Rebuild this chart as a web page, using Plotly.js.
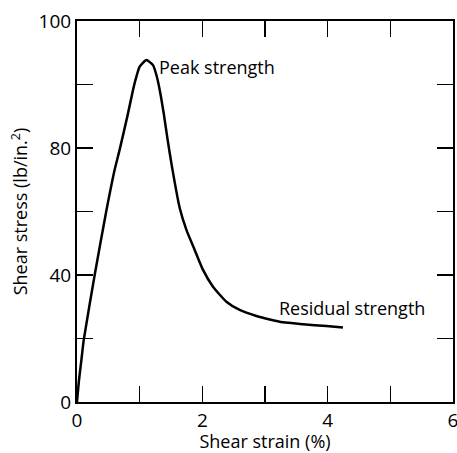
<!DOCTYPE html>
<html>
<head>
<meta charset="utf-8">
<script src="https://cdn.plot.ly/plotly-3.0.1.min.js"></script>
<style>html,body{margin:0;padding:0;background:#fff;}#chart{width:457px;height:453px;}</style>
</head>
<body>
<div id="chart"></div>
<script>
// Shear strain (%) and shear stress
const strain = [0, 0.032, 0.070, 0.107, 0.282, 0.469, 0.60, 0.68, 0.814, 0.894, 0.948, 1.0, 1.107, 1.213, 1.267, 1.320, 1.383, 1.447, 1.511, 1.639, 1.746, 1.878, 2.011, 2.170, 2.384, 2.596, 2.863, 3.075, 3.287, 3.606, 3.980, 4.244];
const stress = [0, 6.9, 13.2, 19.5, 40.0, 60.3, 73.1, 79.4, 90.9, 98.3, 102.5, 105.6, 107.7, 106.1, 103.0, 98.3, 91.0, 82.5, 74.6, 61.1, 54.2, 47.9, 41.6, 36.3, 31.6, 29.0, 27.1, 26.0, 25.1, 24.5, 23.9, 23.5];

const xTickVals = [0, 1, 2, 3, 4, 5, 6];
const xTickText = ['0', '', '2', '', '4', '', '6'];
const yTickVals = [0, 20, 40, 60, 80, 100, 120];
const yTickText = ['0', '', '40', '', '80', '', '100'];

const labelPeak = 'Peak strength';
const labelResidual = 'Residual strength';

const FONT = 'Open Sans, Liberation Sans, sans-serif';

const trace = {
  x: strain, y: stress, type: 'scatter', mode: 'lines',
  line: {color: '#000', width: 2.5, shape: 'spline', smoothing: 0.5},
  hoverinfo: 'skip'
};

const axisCommon = {
  showline: true, linecolor: '#000', linewidth: 2, mirror: 'allticks',
  ticks: 'inside', ticklen: 16, tickwidth: 1.5, tickcolor: '#000',
  showgrid: false, zeroline: false, tickmode: 'array',
  ticklabeloverflow: 'allow',
  tickfont: {family: FONT, size: 19, color: '#000'}
};

const layout = {
  width: 457, height: 453,
  margin: {l: 77, r: 4, t: 21, b: 51},
  paper_bgcolor: '#fff', plot_bgcolor: '#fff',
  showlegend: false,
  xaxis: Object.assign({}, axisCommon, {
    range: [0, 6], tickvals: xTickVals, ticktext: xTickText,
    title: {text: 'Shear strain (%)', font: {family: FONT, size: 18, color: '#000'}, standoff: 10}
  }),
  yaxis: Object.assign({}, axisCommon, {
    range: [0, 120], tickvals: yTickVals, ticktext: yTickText,
    title: {text: 'Shear stress (lb/in.<sup>2</sup>)', font: {family: FONT, size: 18, color: '#000'}, standoff: 6}
  }),
  annotations: [
    {x: 1.28, y: 105.5, xref: 'x', yref: 'y', text: labelPeak, showarrow: false, xanchor: 'left', yanchor: 'middle',
     font: {family: FONT, size: 18, color: '#000'}},
    {x: 3.19, y: 29.5, xref: 'x', yref: 'y', text: labelResidual, showarrow: false, xanchor: 'left', yanchor: 'middle',
     font: {family: FONT, size: 18, color: '#000'}}
  ]
};

Plotly.newPlot('chart', [trace], layout, {staticPlot: true, displayModeBar: false});
</script>
</body>
</html>
